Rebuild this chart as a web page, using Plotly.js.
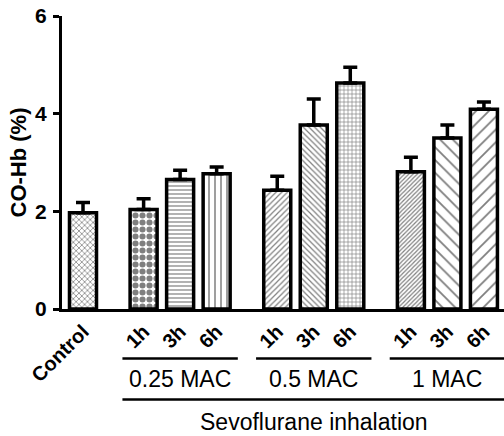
<!DOCTYPE html>
<html><head><meta charset="utf-8">
<script src="https://cdn.plot.ly/plotly-3.0.1.min.js"></script>
<style>html,body{margin:0;padding:0;background:#fff}</style>
</head><body><div id="chart" style="width:504px;height:436px"></div>
<script>
// Data
const groups = ["Control", "0.25 MAC", "0.5 MAC", "1 MAC"];
const timeLabels = ["1h", "3h", "6h"];
const controlValue = 1.97;
const controlErr = 0.21;
const mac025 = [2.04, 2.65, 2.77];
const mac025Err = [0.22, 0.19, 0.14];
const mac05 = [2.43, 3.77, 4.63];
const mac05Err = [0.29, 0.53, 0.32];
const mac1 = [2.81, 3.50, 4.09];
const mac1Err = [0.30, 0.27, 0.15];
const outerLabel = "Sevoflurane inhalation";
const yTitle = "CO-Hb (%)";

// Layout positions (computed)
const gap = 1.66;
const xs = [0];
const groupStarts = [];
let cur = 0;
for (let g = 0; g < 3; g++) {
  cur += gap;
  groupStarts.push(cur);
  for (let i = 0; i < 3; i++) { xs.push(cur + i); }
  cur += 2;
}
const values = [controlValue].concat(mac025, mac05, mac1);
const errs = [controlErr].concat(mac025Err, mac05Err, mac1Err);
const tickText = [groups[0]].concat(timeLabels, timeLabels, timeLabels);

const shapes = ["x", ".", "-", "|", "/", "\\", "+", "/", "\\", "/"];
const sizes = [4, 7, 4, 6, 4, 4, 4, 3, 9, 9];
const solid = [0.35, 0.6, 0.3, 0.25, 0.3, 0.3, 0.3, 0.4, 0.2, 0.2];

const trace = {
  type: "bar", x: xs, y: values, width: 0.74,
  marker: {
    color: "white",
    line: {color: "black", width: 3.5},
    pattern: {shape: shapes, size: sizes, solidity: solid, fgcolor: "black", bgcolor: "white", fillmode: "overlay"}
  },
  error_y: {type: "data", symmetric: false, array: errs, arrayminus: errs.map(() => 0), color: "black", thickness: 3.5, width: 7},
  hoverinfo: "none"
};

const F = "Arial, 'Liberation Sans', sans-serif";
const annotations = [];
const lineShapes = [];
for (let g = 0; g < 3; g++) {
  const a = groupStarts[g] - 0.58, b = groupStarts[g] + 2 + 0.58;
  lineShapes.push({type: "line", xref: "x", yref: "paper", x0: a, x1: b, y0: -0.169, y1: -0.169, line: {color: "black", width: 2.5}});
  annotations.push({xref: "x", yref: "paper", x: groupStarts[g] + 1, y: -0.24, text: groups[g + 1], showarrow: false, font: {family: F, size: 23, color: "black"}, yanchor: "middle"});
}
lineShapes.push({type: "line", xref: "x", yref: "paper", x0: groupStarts[0] - 0.58, x1: groupStarts[2] + 2.6, y0: -0.309, y1: -0.309, line: {color: "black", width: 2.5}});
annotations.push({xref: "x", yref: "paper", x: (groupStarts[0] + groupStarts[2] + 2) / 2, y: -0.385, text: outerLabel, showarrow: false, font: {family: F, size: 23, color: "black"}, yanchor: "middle"});

const layout = {
  width: 504, height: 436,
  margin: {l: 62, r: 0, t: 16, b: 126.5},
  paper_bgcolor: "white", plot_bgcolor: "white",
  showlegend: false,
  xaxis: {
    range: [-0.575, 11.53], tickvals: xs, ticktext: tickText, tickangle: -45,
    ticks: "", showgrid: false, zeroline: false, showline: true, linecolor: "black", linewidth: 3,
    tickfont: {family: F, size: 20, color: "black", weight: "bold"}, ticklabelstandoff: 0
  },
  yaxis: {
    range: [0, 6], tickvals: [0, 2, 4, 6], ticks: "outside", ticklen: 6, tickwidth: 3, tickcolor: "black",
    showgrid: false, zeroline: false, showline: true, linecolor: "black", linewidth: 3,
    tickfont: {family: F, size: 21, color: "black", weight: "bold"}, ticklabelstandoff: 2,
    title: {text: yTitle, font: {family: F, size: 22, color: "black", weight: "bold"}, standoff: 3}
  },
  shapes: lineShapes,
  annotations: annotations
};
Plotly.newPlot("chart", [trace], layout, {displayModeBar: false, staticPlot: true});
</script></body></html>
